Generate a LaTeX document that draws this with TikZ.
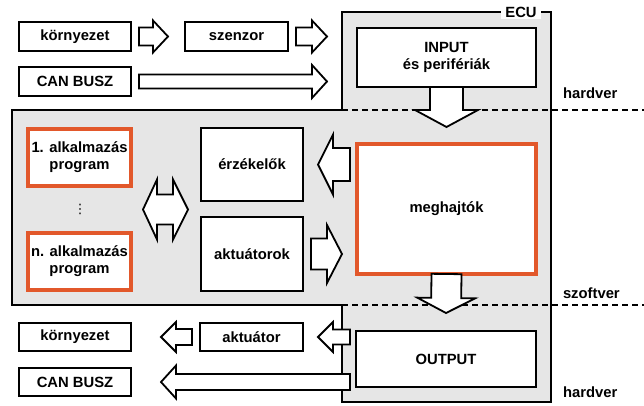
\documentclass[tikz,border=0pt]{standalone}
\usepackage{fontspec}
\setmainfont{Liberation Sans}
\newfontfamily\symbolfont{DejaVu Sans}
\usetikzlibrary{calc}

\definecolor{appedge}{HTML}{E2582B}
\definecolor{panelgray}{HTML}{E6E6E6}

\tikzset{
  x=1pt, y=-1pt,
  every node/.style={font=\fontsize{14.8}{17}\selectfont\bfseries, align=center,
    inner sep=0pt, outer sep=0pt},
  box/.style={draw=black, line width=2pt, fill=white},
  appbox/.style={draw=appedge, line width=4.5pt, fill=white},
  frame/.style={draw=black, line width=2pt},
  layerline/.style={draw=black, line width=1.8pt, dash pattern=on 6pt off 4pt},
  blockarrow/.style={draw=black, line width=1.8pt, fill=white, line join=miter},
  layerlabel/.style={anchor=west},
}

% block arrow: #1 tail, #2 tip, #3 half shaft width, #4 half head width, #5 head length (pt)
\newcommand\blockarrow[5]{%
  \path let \p1=(#1), \p2=(#2),
    \n1={atan2(\y2-\y1,\x2-\x1)}, \n2={veclen(\x2-\x1,\y2-\y1)} in
    \pgfextra{\xdef\BAang{\n1}\xdef\BAlen{\n2}\xdef\BAx{\x1}\xdef\BAy{\y1}};
  \draw[blockarrow, shift={(\BAx,\BAy)}, rotate=\BAang]
    (0pt,#3pt) -- ({\BAlen-#5pt},#3pt) -- ({\BAlen-#5pt},#4pt) -- (\BAlen,0pt)
    -- ({\BAlen-#5pt},-#4pt) -- ({\BAlen-#5pt},-#3pt) -- (0pt,-#3pt) -- cycle;
}

\begin{document}
\begin{tikzpicture}
\useasboundingbox (0,0) rectangle (644,405);

% ECU and software layer corners
\coordinate (ecuNW) at (342,12);
\coordinate (ecuSE) at (551,402);
\coordinate (swNW) at (12,110);
\coordinate (swSE) at (551,305);

% grey panels
\fill[panelgray] (swNW) rectangle (swSE);
\fill[panelgray] (ecuNW) rectangle (ecuSE |- swNW);
\fill[panelgray] (ecuNW |- swSE) rectangle (ecuSE);

% hardware / software boundaries
\draw[layerline] (ecuNW |- swNW) -- (644,110);
\draw[layerline] (ecuNW |- swSE) -- (644,305);

% software layer frame
\draw[frame] (ecuNW |- swNW) -- (swNW) -- (swNW |- swSE) -- (ecuNW |- swSE);
% ECU frame
\draw[frame] (ecuNW |- swNW) -- (ecuNW) -- (ecuNW -| ecuSE) -- (ecuSE)
  -- (ecuNW |- ecuSE) -- (ecuNW |- swSE);
\node[fill=white, inner xsep=4pt, inner ysep=2pt] (ecu) at (521,12) {ECU};

% layer labels
\node[layerlabel] (hw1) at (563,93) {hardver};
\node[layerlabel] (sw) at (563,293) {szoftver};
\node[layerlabel] (hw2) at (563,392) {hardver};

% input side
\node[box, minimum width=112pt, minimum height=29pt] (kor1) at (75,36.5) {környezet};
\node[box, minimum width=103pt, minimum height=29pt] (sz) at (236.5,36.5) {szenzor};
\node[box, minimum width=112pt, minimum height=29pt] (can1) at (75,81.5) {CAN BUSZ};
\node[box, minimum width=179pt, minimum height=59pt] (input) at (446.5,57.5) {INPUT\\és perifériák};

% software layer
\node[appbox, minimum width=103pt, minimum height=57pt] (app1) at (79.5,157.5) {1. alkalmazás\\program};
\node[appbox, minimum width=103pt, minimum height=57pt] (appn) at (79.5,261.5) {n. alkalmazás\\program};
\node[font=\symbolfont\fontsize{13}{14}\selectfont] (dots) at (80,209.5) {⋮};
\node[box, minimum width=102pt, minimum height=73pt] (erz) at (252,164.5) {érzékelők};
\node[box, minimum width=102pt, minimum height=74pt] (akt) at (252,254) {aktuátorok};
\node[appbox, minimum width=179pt, minimum height=130pt] (megh) at (446.5,209) {meghajtók};

% output side
\node[box, minimum width=180pt, minimum height=56pt] (output) at (446,359) {OUTPUT};
\node[box, minimum width=103pt, minimum height=28pt] (aktr) at (251.5,337) {aktuátor};
\node[box, minimum width=112pt, minimum height=28pt] (kor2) at (75,337) {környezet};
\node[box, minimum width=112pt, minimum height=28pt] (can2) at (75,382) {CAN BUSZ};

% block arrows, input side
\blockarrow{$(kor1.east)+(8,0)$}{$(sz.west)+(-17,0)$}{9}{16}{15}
\blockarrow{$(sz.east)+(8,0)$}{$(sz.east -| ecuNW)+(-15,0)$}{9}{16}{15}
\blockarrow{$(can1.east)+(8,0)$}{$(can1.east -| ecuNW)+(-15,0)$}{7}{16.5}{15}
\blockarrow{input.south}{$(megh.north)+(0,-17)$}{16.5}{31.5}{17}

% block arrows, software layer
\blockarrow{$(erz.east -| megh.west)+(-7,0)$}{$(erz.east)+(15,0)$}{16.5}{30}{15}
\blockarrow{$(akt.east)+(8,0)$}{$(akt.east -| megh.west)+(-15,0)$}{15.5}{29}{15}
\coordinate (dl) at ($($(app1.east)!0.5!(appn.east)$)+(12,0)$);
\coordinate (dr) at ($(erz.west |- dl)+(-13,0)$);
\draw[blockarrow] let \p1=(dl), \p2=(dr) in
  (\p1) -- (\x1+14pt,\y1+30pt) -- (\x1+14pt,\y1+15pt) -- (\x2-15pt,\y1+15pt)
  -- (\x2-15pt,\y1+30pt) -- (\p2) -- (\x2-15pt,\y1-30pt) -- (\x2-15pt,\y1-15pt)
  -- (\x1+14pt,\y1-15pt) -- (\x1+14pt,\y1-30pt) -- cycle;

% block arrows, output side
\blockarrow{megh.south}{$(output.north)+(0,-18)$}{15}{29}{15}
\blockarrow{$(aktr.east -| output.west)+(-6,0)$}{$(aktr.east)+(15,0)$}{7.5}{15}{15}
\blockarrow{$(aktr.west)+(-8,0)$}{$(kor2.east)+(30,0)$}{8}{15}{15}
\blockarrow{$(can2.east -| output.west)+(-6,0)$}{$(can2.east)+(30,0)$}{8}{16.5}{15}
\end{tikzpicture}
\end{document}
